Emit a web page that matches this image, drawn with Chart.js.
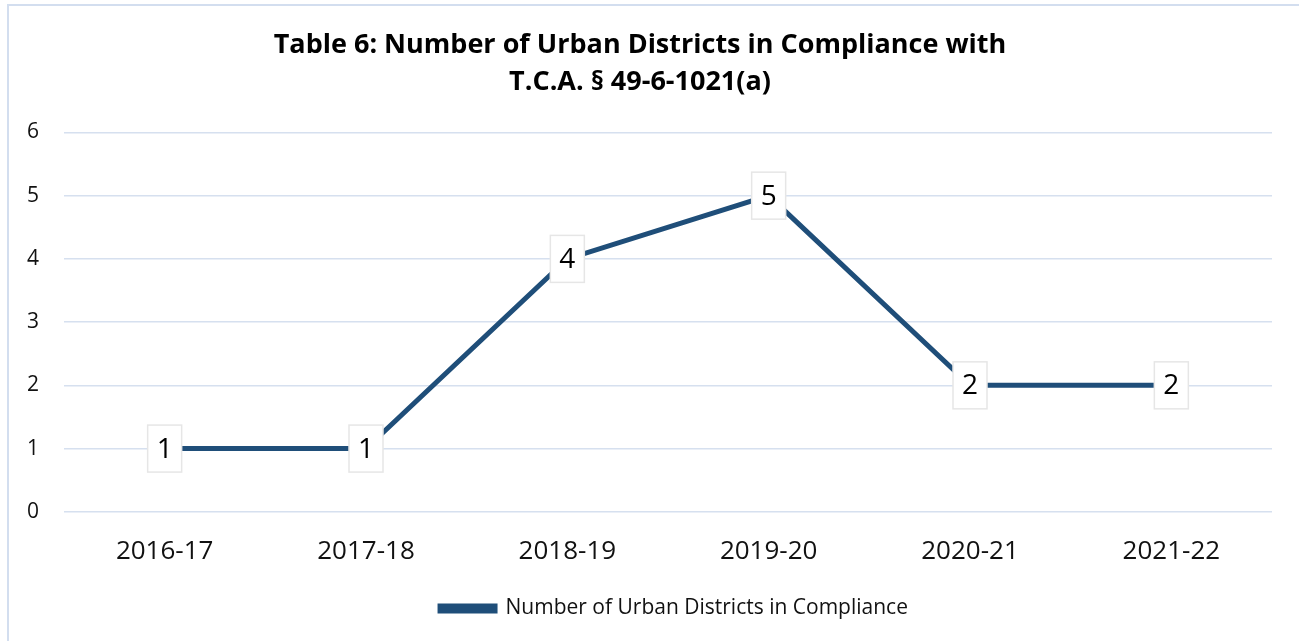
<!DOCTYPE html>
<html>
<head>
<meta charset="utf-8">
<script src="https://cdn.jsdelivr.net/npm/chart.js@4.4.1/dist/chart.umd.min.js"></script>
<style>
  html, body { margin: 0; padding: 0; background: #fff; }
  #wrap { position: absolute; left: 7px; top: 4px; width: 1300px; height: 650px;
          border-left: 2px solid #d3deef; border-top: 2px solid #d3deef; }
  canvas { position: absolute; left: 0; top: 0; }
</style>
</head>
<body>
<div id="wrap"></div>
<canvas id="complianceChart" width="1299" height="641"></canvas>
<script>
// Table 6 data
const years = ['2016-17', '2017-18', '2018-19', '2019-20', '2020-21', '2021-22'];
const districtCounts = [1, 1, 4, 5, 2, 2];
const yTicks = [0, 1, 2, 3, 4, 5, 6];

const lineColor = '#1f4e79';
const gridColor = '#d6e0ef';
const textColor = '#111';

// boxed value labels on each point
const valueBoxes = {
    id: 'valueBoxes',
    afterDatasetsDraw(chart) {
        const ctx = chart.ctx;
        const meta = chart.getDatasetMeta(0);
        ctx.save();
        ctx.font = '28px "Open Sans"';
        ctx.textAlign = 'center';
        ctx.textBaseline = 'middle';
        meta.data.forEach((pt, i) => {
            const w = 34, h = 47;
            ctx.fillStyle = '#ffffff';
            ctx.fillRect(pt.x - w / 2, pt.y - h / 2, w, h);
            ctx.strokeStyle = '#e6e6e6';
            ctx.lineWidth = 1.5;
            ctx.strokeRect(pt.x - w / 2, pt.y - h / 2, w, h);
            ctx.fillStyle = '#000';
            ctx.fillText(String(districtCounts[i]), pt.x, pt.y + 1);
        });
        ctx.restore();
    }
};

// legend sits a bit right of centre in the original
const legendShift = {
    id: 'legendShift',
    afterLayout(chart) {
        chart.legend.left += 34;
        chart.legend.right += 34;
    }
};

const ctx = document.getElementById('complianceChart').getContext('2d');
const chart = new Chart(ctx, {
    type: 'line',
    data: {
        labels: years,
        datasets: [{
            label: 'Number of Urban Districts in Compliance',
            data: districtCounts,
            borderColor: lineColor,
            backgroundColor: lineColor,
            borderWidth: 5,
            pointRadius: 0,
            tension: 0,
            fill: false
        }]
    },
    options: {
        responsive: false,
        animation: false,
        layout: { padding: { left: 8, right: 27, top: 27, bottom: 12 } },
        plugins: {
            title: {
                display: true,
                text: ['Table 6: Number of Urban Districts in Compliance with', 'T.C.A. § 49-6-1021(a)'],
                color: '#000',
                font: { family: 'Open Sans', size: 27, weight: 'bold', lineHeight: 1.36 },
                padding: { top: 0, bottom: 32 }
            },
            legend: {
                position: 'bottom',
                labels: {
                    color: textColor,
                    font: { family: 'Open Sans', size: 21 },
                    boxWidth: 55,
                    boxHeight: 5,
                    padding: 7
                }
            },
            tooltip: { enabled: false }
        },
        scales: {
            x: {
                offset: true,
                grid: { display: false, drawTicks: false },
                border: { display: false },
                ticks: { color: textColor, font: { family: 'Open Sans', size: 26 }, padding: 24 }
            },
            y: {
                min: 0,
                max: 6,
                afterFit(scale) { scale.width = 56; },
                afterBuildTicks(scale) { scale.ticks = yTicks.map(v => ({ value: v })); },
                grid: { color: gridColor, lineWidth: 1.5, drawTicks: false },
                border: { display: false },
                ticks: { color: textColor, font: { family: 'Open Sans', size: 21 }, padding: 25 }
            }
        }
    },
    plugins: [valueBoxes, legendShift]
});
</script>
</body>
</html>
